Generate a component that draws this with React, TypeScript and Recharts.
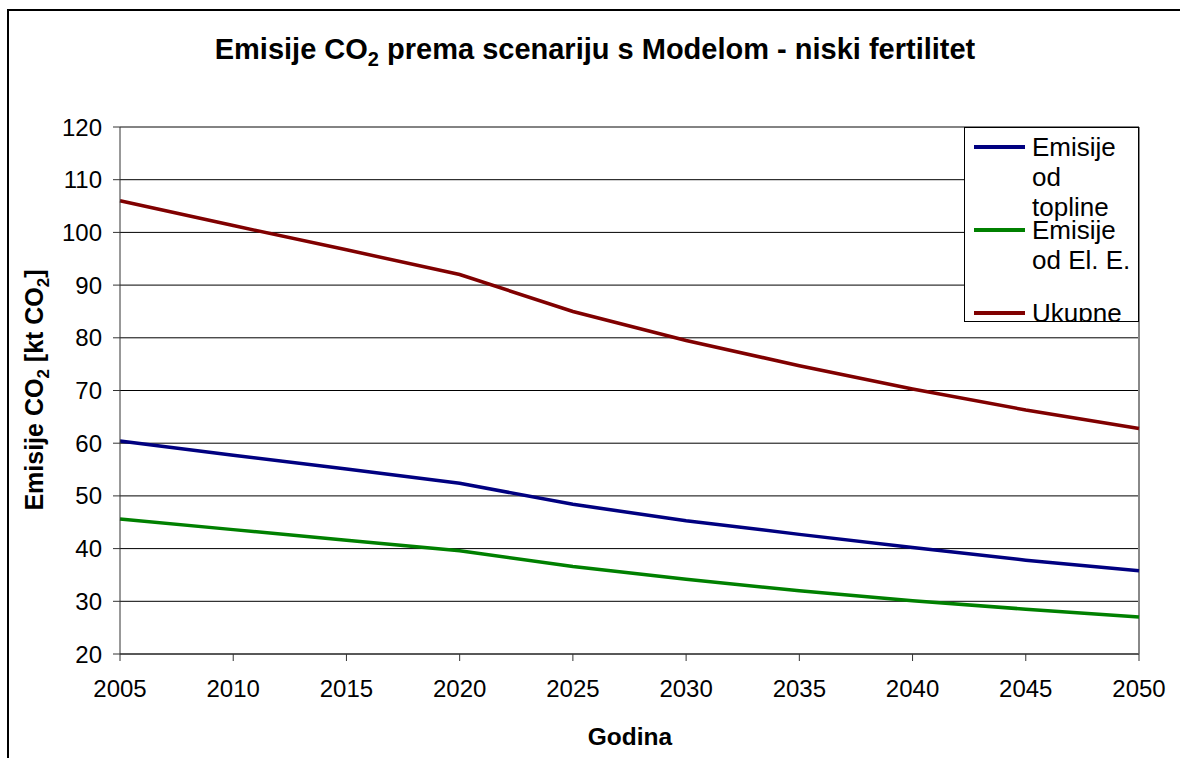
import { LineChart, Line, XAxis, YAxis, CartesianGrid, Legend, ReferenceLine } from 'recharts'

const YEARS = [2005, 2010, 2015, 2020, 2025, 2030, 2035, 2040, 2045, 2050]
const HEAT = [60.4, 57.7, 55.1, 52.4, 48.4, 45.3, 42.7, 40.2, 37.8, 35.8]
const ELEC = [45.6, 43.6, 41.6, 39.6, 36.6, 34.2, 32.0, 30.1, 28.5, 27.0]
const TOTAL = [106.0, 101.3, 96.7, 92.0, 85.0, 79.5, 74.7, 70.3, 66.3, 62.8]
const Y_TICKS = [20, 30, 40, 50, 60, 70, 80, 90, 100, 110, 120]

const SERIES = [
  { key: 'heat', name: 'Emisije od topline', color: '#000080', values: HEAT },
  { key: 'elec', name: 'Emisije od El. E.', color: '#008000', values: ELEC },
  { key: 'total', name: 'Ukupne', color: '#800000', values: TOTAL },
]

const data = YEARS.map((year, i) => {
  const row: Record<string, number> = { year }
  SERIES.forEach((s) => { row[s.key] = s.values[i] })
  return row
})

const FONT = '"Liberation Sans", Arial, sans-serif'
const order = (name: string) => SERIES.findIndex((s) => s.name === name)

function LegendBox({ payload }: any) {
  const items = [...(payload || [])].sort((a: any, b: any) => order(a.value) - order(b.value))
  return (
    <div style={{
      width: 175, height: 195, boxSizing: 'border-box', border: '1px solid #000',
      background: '#fff', overflow: 'hidden', position: 'relative', fontSize: 26, lineHeight: '30px',
    }}>
      {items.map((p: any, i: number) => (
        <div key={i} style={{ position: 'absolute', left: 0, top: 4 + i * 83, width: 175 }}>
          <div style={{ position: 'absolute', left: 9, top: 13, width: 51, height: 4, background: p.color }} />
          <div style={{ marginLeft: 67, width: 105, color: '#000' }}>{p.value}</div>
        </div>
      ))}
    </div>
  )
}

export default function App() {
  return (
    <div style={{ position: 'fixed', left: 0, top: 0, width: 1180, height: 758, overflow: 'hidden', background: '#fff', fontFamily: FONT }}>
      <div style={{ position: 'absolute', left: 7, top: 9, width: 1200, height: 800, borderLeft: '2px solid #000', borderTop: '2px solid #000' }} />
      <div style={{ position: 'absolute', left: 0, top: 0 }}>
        <LineChart width={1180} height={758} data={data} margin={{ top: 127, right: 41, bottom: 64, left: 50 }}>
          <CartesianGrid vertical={false} stroke="#000" strokeWidth={1} />
          <XAxis dataKey="year" type="number" domain={[2005, 2050]} ticks={YEARS} height={40}
                 tick={{ fontSize: 24, fill: '#000' }} tickSize={7} tickMargin={19}
                 stroke="#333" interval={0} />
          <YAxis domain={[20, 120]} ticks={Y_TICKS} width={70} tick={{ fontSize: 24, fill: '#000' }}
                 tickSize={7} tickMargin={11} stroke="#333" interval={0} />
          <ReferenceLine y={120} stroke="#888" strokeWidth={1} />
          <ReferenceLine x={2050} stroke="#888" strokeWidth={2} />
          {SERIES.map((s) => (
            <Line key={s.key} dataKey={s.key} name={s.name} stroke={s.color} strokeWidth={3.5}
                  dot={false} type="linear" isAnimationActive={false} />
          ))}
          <Legend layout="vertical" align="center" verticalAlign="middle" content={LegendBox}
                  wrapperStyle={{ left: 964, top: 127, width: 175, height: 195 }} />
        </LineChart>
      </div>
      <div style={{ position: 'absolute', left: 0, width: 1190, top: 33, textAlign: 'center', fontSize: 29, fontWeight: 'bold', color: '#000' }}>
        Emisije CO<sub style={{ fontSize: 20, verticalAlign: -7, lineHeight: 0 }}>2</sub> prema scenariju s Modelom - niski fertilitet
      </div>
      <div style={{ position: 'absolute', left: 530, width: 200, top: 723, textAlign: 'center', fontSize: 24.5, fontWeight: 'bold', color: '#000' }}>
        Godina
      </div>
      <div style={{
        position: 'absolute', left: 34 - 150, top: 390 - 15, width: 300, textAlign: 'center',
        fontSize: 25, fontWeight: 'bold', color: '#000', transform: 'rotate(-90deg)', lineHeight: '30px',
      }}>
        Emisije CO<sub style={{ fontSize: 17, verticalAlign: -6, lineHeight: 0 }}>2</sub> [kt CO<sub style={{ fontSize: 17, verticalAlign: -6, lineHeight: 0 }}>2</sub>]
      </div>
    </div>
  )
}
